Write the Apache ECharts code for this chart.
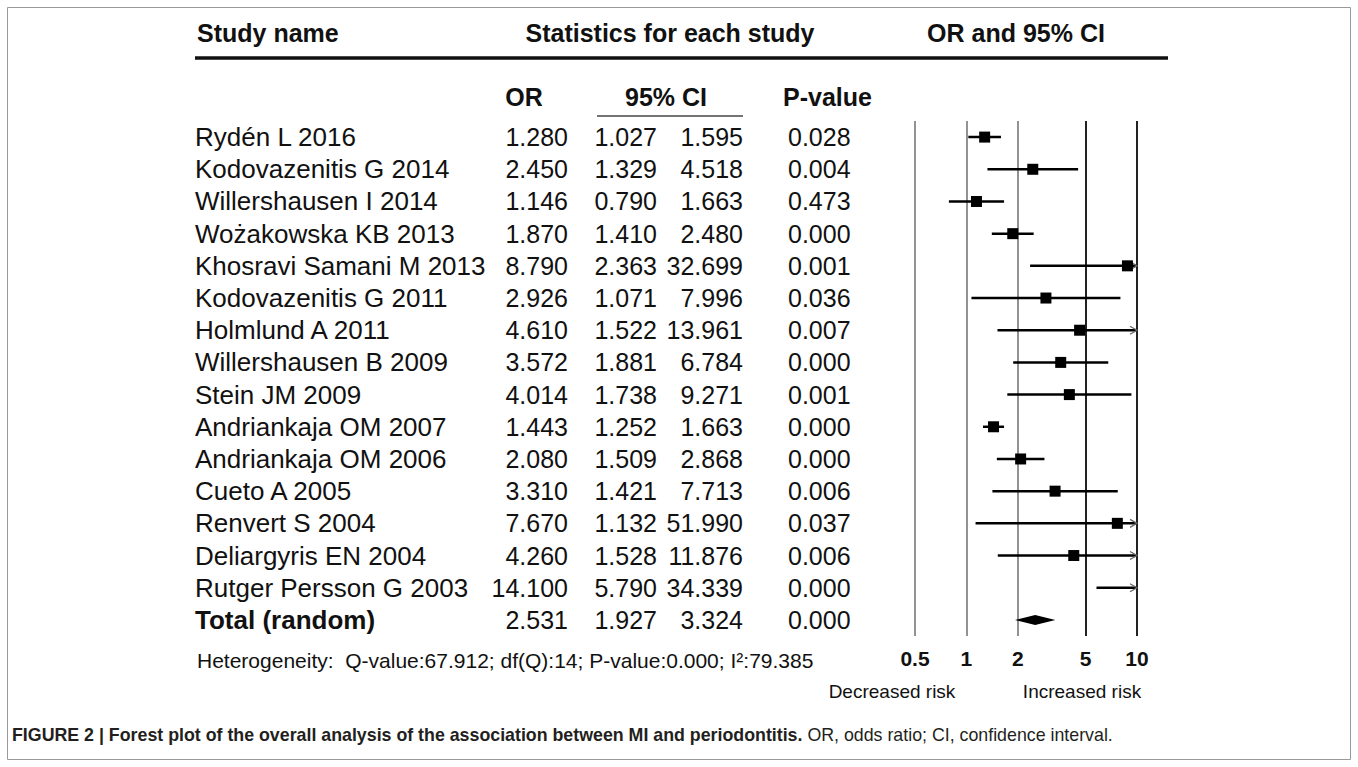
<!DOCTYPE html>
<html>
<head>
<meta charset="utf-8">
<script src="https://cdn.jsdelivr.net/npm/echarts@6/dist/echarts.min.js"></script>
<style>
html,body{margin:0;padding:0;background:#fff;}
#chart{width:1358px;height:767px;}
</style>
</head>
<body>
<div id="chart"></div>
<script>
const studies = ['Rydén L 2016','Kodovazenitis G 2014','Willershausen I 2014','Wożakowska KB 2013','Khosravi Samani M 2013','Kodovazenitis G 2011','Holmlund A 2011','Willershausen B 2009','Stein JM 2009','Andriankaja OM 2007','Andriankaja OM 2006','Cueto A 2005','Renvert S 2004','Deliargyris EN 2004','Rutger Persson G 2003'];
const orValues = [1.280,2.450,1.146,1.870,8.790,2.926,4.610,3.572,4.014,1.443,2.080,3.310,7.670,4.260,14.100];
const ciLower = [1.027,1.329,0.790,1.410,2.363,1.071,1.522,1.881,1.738,1.252,1.509,1.421,1.132,1.528,5.790];
const ciUpper = [1.595,4.518,1.663,2.480,32.699,7.996,13.961,6.784,9.271,1.663,2.868,7.713,51.990,11.876,34.339];
const pValues = ['0.028','0.004','0.473','0.000','0.001','0.036','0.007','0.000','0.001','0.000','0.000','0.006','0.037','0.006','0.000'];
const totalLabel = 'Total (random)';
const totalOR = 2.531, totalLower = 1.927, totalUpper = 3.324, totalP = '0.000';
const axisTicks = [0.5, 1, 2, 5, 10];
const heterogeneity = 'Heterogeneity:  Q-value:67.912; df(Q):14; P-value:0.000; I²:79.385';
const captionBold = 'FIGURE 2 | Forest plot of the overall analysis of the association between MI and periodontitis.';
const captionRest = ' OR, odds ratio; CI, confidence interval.';

const FONT = '"Liberation Sans", Arial, Helvetica, sans-serif';
const names = studies.concat([totalLabel]);
const orLabels = orValues.concat([totalOR]).map(v => v.toFixed(3));
const loLabels = ciLower.concat([totalLower]).map(v => v.toFixed(3));
const hiLabels = ciUpper.concat([totalUpper]).map(v => v.toFixed(3));
const pLabels = pValues.concat([totalP]);
const lastIdx = names.length - 1;

const rows = orValues.map((v, i) => [i, v, ciLower[i], ciUpper[i], 0]);
rows.push([lastIdx, totalOR, totalLower, totalUpper, 1]);

function colAxis(data, margin, align, boldLast, size) {
  return {
    type: 'category', data: data, inverse: true, gridIndex: 0, position: 'left',
    axisLine: {show: false}, axisTick: {show: false}, splitLine: {show: false},
    axisLabel: {
      show: true, interval: 0, margin: margin, align: align, fontSize: size, color: '#111', fontFamily: FONT,
      formatter: function (val, idx) { return (boldLast && idx === lastIdx) ? '{b|' + val + '}' : val; },
      rich: {b: {fontWeight: 'bold', fontSize: size, color: '#111', fontFamily: FONT}}
    }
  };
}

function renderItem(params, api) {
  const i = api.value(0), or = api.value(1), lo = api.value(2), hi = api.value(3), isTotal = api.value(4);
  const cs = params.coordSys;
  const xMax = cs.x + cs.width;
  const y = api.coord([1, i])[1];
  const xLo = api.coord([lo, i])[0];
  const xHiRaw = api.coord([hi, i])[0];
  const xHi = Math.min(xHiRaw, xMax);
  const xOr = api.coord([or, i])[0];
  const children = [];
  if (isTotal) {
    children.push({type: 'polygon', shape: {points: [[xLo, y], [xOr, y - 5], [xHi, y], [xOr, y + 5]]}, style: {fill: '#000'}});
    return {type: 'group', children: children};
  }
  children.push({type: 'line', shape: {x1: xLo, y1: y, x2: xHi, y2: y}, style: {stroke: '#000', lineWidth: 2.5}});
  if (xHiRaw > xMax) {
    children.push({type: 'polyline', shape: {points: [[xMax - 7, y - 4], [xMax, y], [xMax - 7, y + 4]]}, style: {stroke: '#666', lineWidth: 1.3, fill: null}});
  }
  if (xOr <= xMax) {
    const s = 11;
    children.push({type: 'rect', shape: {x: xOr - s / 2, y: y - s / 2, width: s, height: s}, style: {fill: '#000'}});
  }
  return {type: 'group', children: children};
}

const chart = echarts.init(document.getElementById('chart'), null, {renderer: 'svg'});
chart.setOption({
  backgroundColor: '#fff',
  animation: false,
  grid: {left: 915, right: 221, top: 121, bottom: 131, containLabel: false},
  xAxis: {
    type: 'log', logBase: 10, min: 0.5, max: 10,
    axisLine: {show: false}, axisTick: {show: false}, axisLabel: {show: false}, splitLine: {show: false}
  },
  yAxis: [
    colAxis(names, 720, 'left', true, 26),
    colAxis(orLabels, 347, 'right', false, 25),
    colAxis(loLabels, 258, 'right', false, 25),
    colAxis(hiLabels, 172, 'right', false, 25),
    colAxis(pLabels, 127, 'left', false, 25)
  ],
  series: [{
    type: 'custom', xAxisIndex: 0, yAxisIndex: 0, renderItem: renderItem, data: rows, clip: false, z: 5,
    markLine: {
      silent: true, symbol: ['none', 'none'], animation: false,
      label: {show: true, position: 'end', distance: 12, formatter: p => String(p.value), fontSize: 21, fontWeight: 'bold', color: '#111', fontFamily: FONT},
      data: axisTicks.map(v => ({xAxis: v, lineStyle: {color: v >= 5 ? '#222' : '#777', width: v >= 5 ? 2 : 1.6, type: 'solid'}}))
    }
  }],
  graphic: [
    {type: 'rect', shape: {x: 7.5, y: 7.5, width: 1343, height: 752}, style: {fill: null, stroke: '#999', lineWidth: 1}},
    {type: 'text', x: 197, y: 33, style: {text: 'Study name', font: 'bold 25px ' + FONT, fill: '#111', verticalAlign: 'middle'}},
    {type: 'text', x: 670, y: 33, style: {text: 'Statistics for each study', font: 'bold 25px ' + FONT, fill: '#111', align: 'center', verticalAlign: 'middle'}},
    {type: 'text', x: 1016, y: 33, style: {text: 'OR and 95% CI', font: 'bold 25px ' + FONT, fill: '#111', align: 'center', verticalAlign: 'middle'}},
    {type: 'line', shape: {x1: 195, y1: 58, x2: 1168, y2: 58}, style: {stroke: '#111', lineWidth: 3.5}},
    {type: 'text', x: 524, y: 97, style: {text: 'OR', font: 'bold 25px ' + FONT, fill: '#111', align: 'center', verticalAlign: 'middle'}},
    {type: 'text', x: 666, y: 97, style: {text: '95% CI', font: 'bold 25px ' + FONT, fill: '#111', align: 'center', verticalAlign: 'middle'}},
    {type: 'text', x: 783, y: 97, style: {text: 'P-value', font: 'bold 25px ' + FONT, fill: '#111', verticalAlign: 'middle'}},
    {type: 'line', shape: {x1: 597, y1: 116, x2: 743, y2: 116}, style: {stroke: '#444', lineWidth: 1.5}},
    {type: 'text', x: 197, y: 660, style: {text: heterogeneity, font: '21px ' + FONT, fill: '#111', verticalAlign: 'middle'}},
    {type: 'text', x: 892, y: 691, style: {text: 'Decreased risk', font: '19px ' + FONT, fill: '#111', align: 'center', verticalAlign: 'middle'}},
    {type: 'text', x: 1082, y: 691, style: {text: 'Increased risk', font: '19px ' + FONT, fill: '#111', align: 'center', verticalAlign: 'middle'}},
    {type: 'text', x: 12, y: 735, style: {
      text: '{b|' + captionBold + '}{n|' + captionRest + '}', verticalAlign: 'middle',
      rich: {b: {font: 'bold 17.8px ' + FONT, fill: '#231f20'}, n: {font: '17.8px ' + FONT, fill: '#231f20'}}
    }}
  ]
});
</script>
</body>
</html>
